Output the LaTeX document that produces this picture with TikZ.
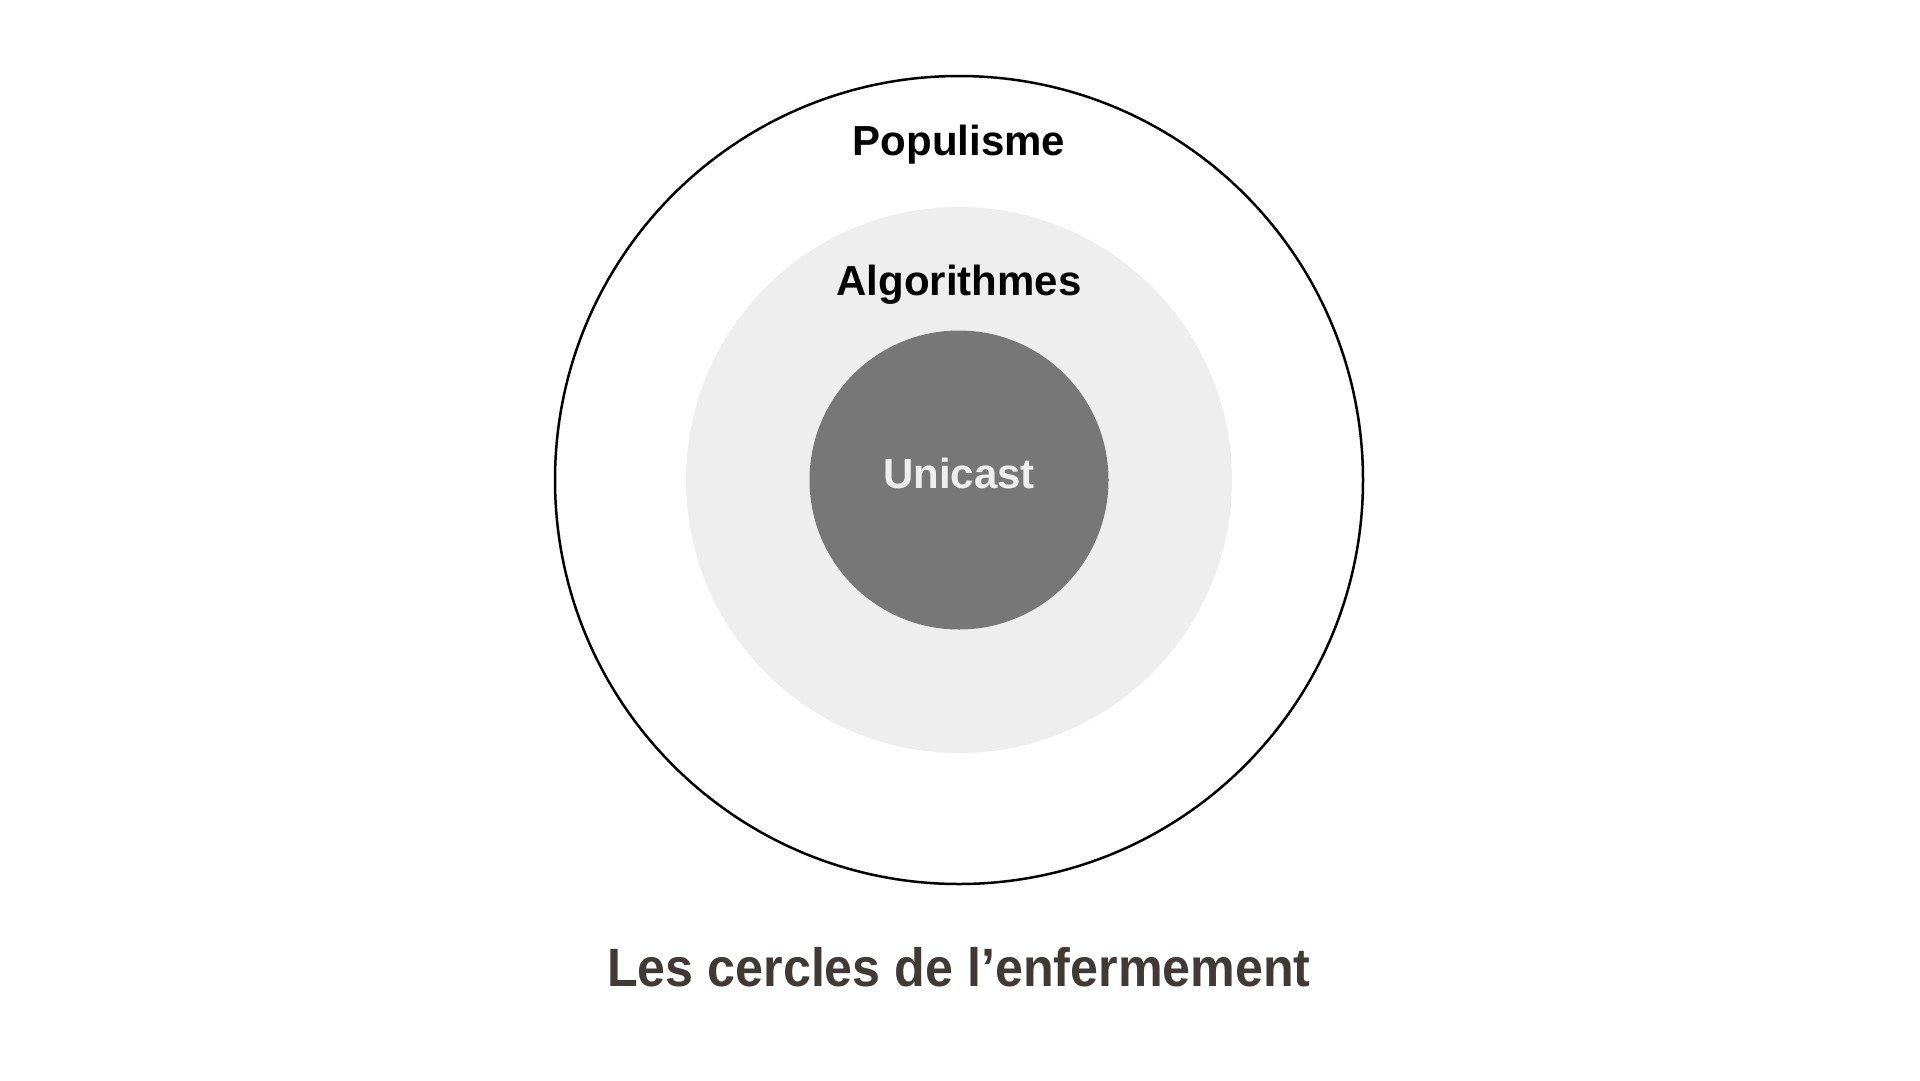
\documentclass[tikz,border=0pt]{standalone}
\usepackage{fontspec}
\setmainfont{Liberation Sans}
\newfontfamily\titlefont[FakeStretch=0.93]{Liberation Sans}
\definecolor{ringgrey}{HTML}{EEEEEE}
\definecolor{coregrey}{HTML}{777777}
\definecolor{titlegrey}{HTML}{3F3A36}

\tikzstyle{ring} = [circle, inner sep=0pt, outer sep=0pt]
\tikzstyle{ringlabel} = [anchor=base, inner sep=0pt, font=\fontsize{42}{46}\selectfont\bfseries]
\tikzstyle{titletext} = [anchor=base, inner sep=0pt, text=titlegrey, font=\titlefont\fontsize{54}{60}\selectfont\bfseries]

\begin{document}
\begin{tikzpicture}[x=1pt, y=-1pt]
        \useasboundingbox (0,0) rectangle (1920,1080);
        \node (outer) [ring, draw=black, line width=2.5pt, minimum size=808pt] at (959,480) {};
        \node (middle) [ring, fill=ringgrey, minimum size=546pt] at (outer.center) {};
        \node (core) [ring, fill=coregrey, minimum size=299pt] at (outer.center) {};

        \node (populisme) [ringlabel] at (959,155) {Populisme};
        \node (algorithmes) [ringlabel] at (959,295) {Algorithmes};
        \node (unicast) [ringlabel, text=ringgrey] at (959,488) {Unicast};
        \node (title) [titletext] at (959,986) {Les cercles de l’enfermement};
    \end{tikzpicture}
\end{document}
